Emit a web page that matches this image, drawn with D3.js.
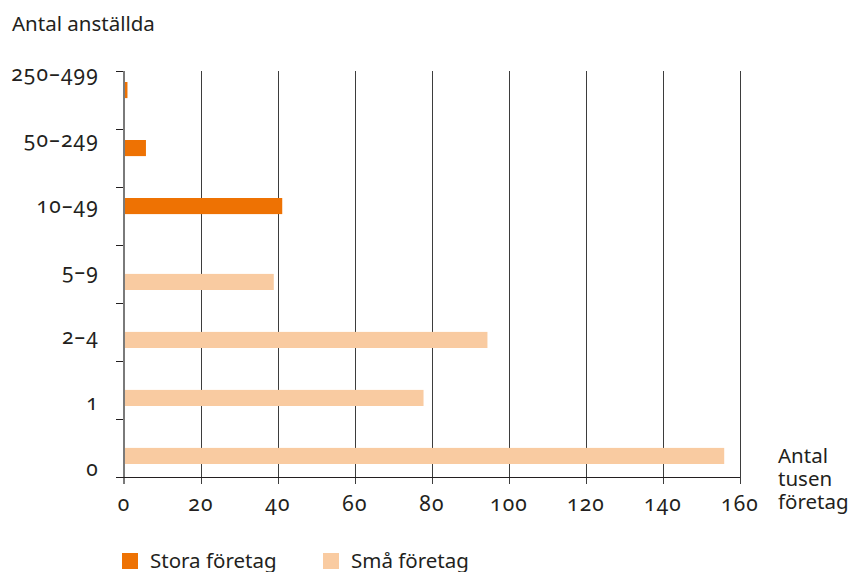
<!DOCTYPE html>
<html>
<head>
<meta charset="utf-8">
<script src="https://cdn.jsdelivr.net/npm/d3@7"></script>
<style>
  body { margin: 0; background: #fff; }
  svg text { font-family: "Noto Sans", sans-serif; fill: #231f20; font-variant-numeric: oldstyle-nums; font-size: 20.5px; }
  svg text.num { font-size: 21px; letter-spacing: 1.2px; }
</style>
</head>
<body>
<svg id="chart" width="850" height="572"></svg>
<script>
// categories, top to bottom
var categories = ['250–499', '50–249', '10–49', '5–9', '2–4', '1', '0'];
// thousands of companies
var storaForetag = [0.9, 5.7, 41.1, null, null, null, null];
var smaForetag = [null, null, null, 38.9, 94.4, 77.8, 155.9];
var xTicks = [0, 20, 40, 60, 80, 100, 120, 140, 160];
var seriesNames = ['Stora företag', 'Små företag'];
var seriesColors = ['#ee7203', '#f9cba1'];

var svg = d3.select('#chart');

var x = d3.scaleLinear().domain([0, 160]).range([124, 740]);
var y0 = d3.scaleBand().domain(categories).range([71, 477]);
var y1 = d3.scaleBand().domain(seriesNames).range([11, 45]).paddingInner(0.1);
// labels sit on their own spacing in the original
var yLabel = d3.scalePoint().domain(categories).range([75, 470]);

// vertical grid lines
svg.append('g').selectAll('line')
    .data(xTicks.filter(function(d) { return d > 0; }))
  .enter().append('line')
    .attr('x1', function(d) { return x(d) + 0.5; })
    .attr('x2', function(d) { return x(d) + 0.5; })
    .attr('y1', 71)
    .attr('y2', 484)
    .attr('stroke', '#3d3d3d')
    .attr('stroke-width', 1);

// y axis ticks
svg.append('g').selectAll('line')
    .data(categories)
  .enter().append('line')
    .attr('x1', 116)
    .attr('x2', 124)
    .attr('y1', function(d) { return y0(d) + 0.5; })
    .attr('y2', function(d) { return y0(d) + 0.5; })
    .attr('stroke', '#231f20');

// y axis line
svg.append('line')
    .attr('x1', x(0)).attr('x2', x(0))
    .attr('y1', 71).attr('y2', 484)
    .attr('stroke', '#7a7a7a')
    .attr('stroke-width', 2);

// bars
var rows = [];
categories.forEach(function(c, i) {
    rows.push({cat: c, series: seriesNames[0], value: storaForetag[i]});
    rows.push({cat: c, series: seriesNames[1], value: smaForetag[i]});
});
svg.append('g').selectAll('rect')
    .data(rows.filter(function(d) { return d.value != null; }))
  .enter().append('rect')
    .attr('x', x(0) + 1)
    .attr('y', function(d) { return y0(d.cat) + y1(d.series); })
    .attr('width', function(d) { return x(d.value) - x(0) - 1; })
    .attr('height', y1.bandwidth())
    .attr('fill', function(d) { return seriesColors[seriesNames.indexOf(d.series)]; });

// x axis line
svg.append('line')
    .attr('x1', 116).attr('x2', 740)
    .attr('y1', 477.5).attr('y2', 477.5)
    .attr('stroke', '#231f20');

// x tick labels
svg.append('g').selectAll('text')
    .data(xTicks)
  .enter().append('text')
    .attr('class', 'num')
    .attr('x', function(d) { return x(d); })
    .attr('y', 511)
    .attr('text-anchor', 'middle')
    .text(function(d) { return d; });

// y labels
svg.append('g').selectAll('text')
    .data(categories)
  .enter().append('text')
    .attr('class', 'num')
    .attr('x', 99)
    .attr('y', function(d) { return yLabel(d) + 6; })
    .attr('text-anchor', 'end')
    .text(function(d) { return d; });

// axis titles
svg.append('text')
    .attr('x', 12).attr('y', 31)
    .text('Antal anställda');

svg.append('text')
    .attr('x', 778).attr('y', 463)
    .selectAll('tspan')
    .data(['Antal', 'tusen', 'företag'])
  .enter().append('tspan')
    .attr('x', 778)
    .attr('dy', function(d, i) { return i ? 23 : 0; })
    .text(function(d) { return d; });

// legend
var legend = svg.append('g').selectAll('g')
    .data(seriesNames)
  .enter().append('g')
    .attr('transform', function(d, i) { return 'translate(' + [122, 323][i] + ',553)'; });
legend.append('rect')
    .attr('width', 16).attr('height', 16)
    .attr('fill', function(d, i) { return seriesColors[i]; });
legend.append('text')
    .attr('x', 28).attr('y', 14.5)
    .text(function(d) { return d; });
</script>
</body>
</html>
